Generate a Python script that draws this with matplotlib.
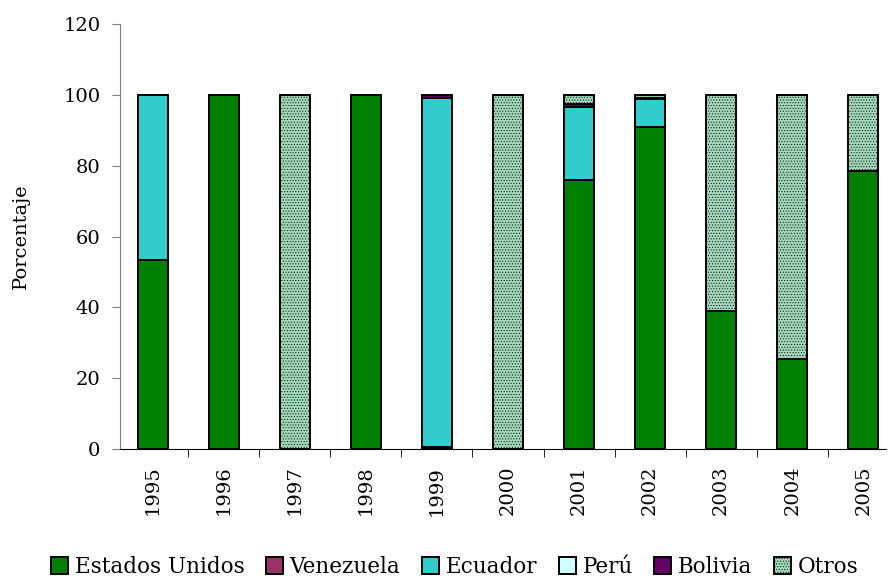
import numpy as np
import matplotlib
matplotlib.use("Agg")
import matplotlib.pyplot as plt

plt.rcParams["font.family"] = ["DejaVu Serif"]
plt.rcParams["hatch.linewidth"] = 0.4
plt.rcParams["hatch.color"] = "#7fbf9c"

years = ["1995", "1996", "1997", "1998", "1999", "2000",
         "2001", "2002", "2003", "2004", "2005"]
estados_unidos = [53.5, 100, 0, 100, 0.5, 0, 76.0, 91.0, 39.0, 25.5, 78.5]
venezuela = [0, 0, 0, 0, 0, 0, 0, 0, 0, 0, 0]
ecuador = [46.5, 0, 0, 0, 98.7, 0, 20.5, 7.8, 0, 0, 0]
peru = [0, 0, 0, 0, 0, 0, 0, 0.2, 0, 0, 0]
bolivia = [0, 0, 0, 0, 0.8, 0, 0.8, 0, 0, 0, 0]
otros = [0, 0, 100, 0, 0, 100, 2.7, 1.0, 61.0, 74.5, 21.5]

series = [
    ("Estados Unidos", estados_unidos, "#008000", None),
    ("Venezuela", venezuela, "#993366", None),
    ("Ecuador", ecuador, "#33CCCC", None),
    ("Perú", peru, "#CCFFFF", None),
    ("Bolivia", bolivia, "#660066", None),
    ("Otros", otros, "#a3d9bb", "......"),
]

fig = plt.figure(figsize=(8.88, 5.8), dpi=100)
ax = fig.add_axes([120 / 888, 1 - 449 / 580, (886 - 120) / 888, (449 - 24) / 580])

x = np.arange(len(years))
bottom = np.zeros(len(years))
handles = []
for name, vals, color, hatch in series:
    vals = np.array(vals, dtype=float)
    edges = ["black" if v > 0 else "none" for v in vals]
    ax.bar(x, vals, 0.42, bottom=bottom, color=color, edgecolor=edges,
           linewidth=1.4, hatch=hatch, label=name)
    bottom += vals
    # legend proxy with black edge
    h = plt.Rectangle((0, 0), 1, 1, facecolor=color, edgecolor="black",
                      linewidth=1.4, hatch=hatch)
    handles.append(h)

ax.set_ylim(0, 120)
ax.set_xlim(-0.46, 10.32)
ax.set_yticks(range(0, 121, 20))
ax.set_xticks(x)
ax.set_xticklabels(years, rotation=90, fontsize=14)
ax.tick_params(axis="y", labelsize=14, length=6, color="#808080", pad=8)
ax.tick_params(axis="x", length=0, pad=12)
ax.set_xticks(np.arange(0.5, 10.5, 1), minor=True)
ax.tick_params(axis="x", which="minor", length=6, color="black")
ax.set_ylabel("Porcentaje", fontsize=14, labelpad=24)

for s in ["top", "right"]:
    ax.spines[s].set_visible(False)
ax.spines["left"].set_color("#808080")
ax.spines["bottom"].set_color("black")

fig.legend(handles=handles, labels=[s[0] for s in series],
           loc="lower center", bbox_to_anchor=(0.512, -0.03),
           ncol=6, frameon=False, fontsize=15.5, handlelength=0.8,
           handleheight=0.8, handletextpad=0.3, columnspacing=1.0)

fig.savefig("out.png", dpi=100)
